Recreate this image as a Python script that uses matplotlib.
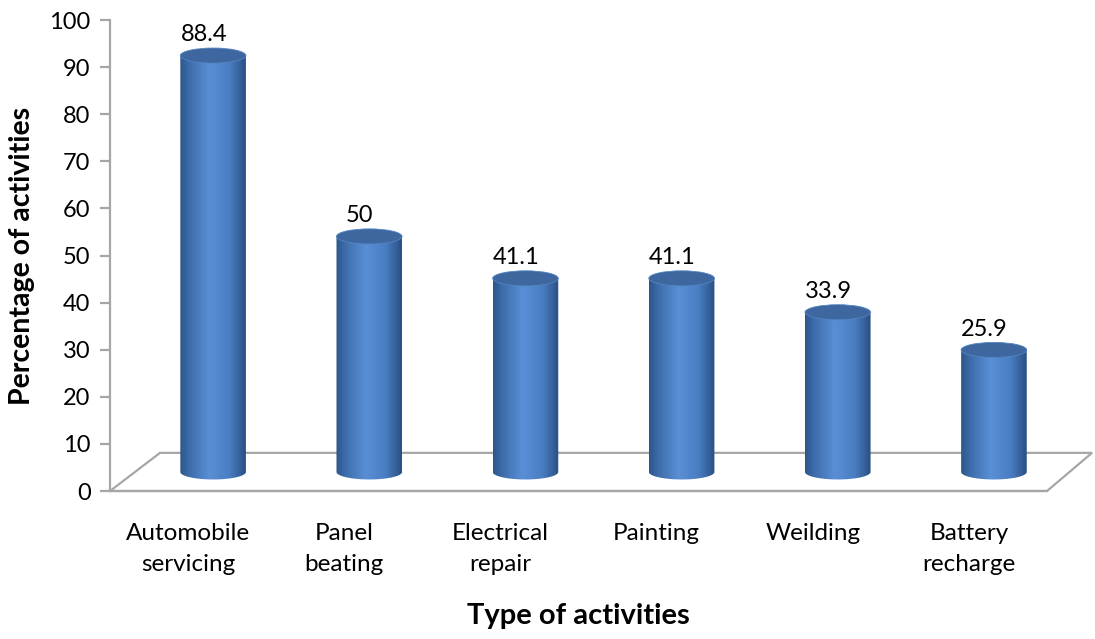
import numpy as np
import matplotlib
matplotlib.use("Agg")
import matplotlib.pyplot as plt
from matplotlib.patches import Ellipse, PathPatch, Polygon
from matplotlib.path import Path
from matplotlib.colors import LinearSegmentedColormap

categories = ["Automobile\nservicing", "Panel\nbeating", "Electrical\nrepair",
              "Painting", "Weilding", "Battery\nrecharge"]
values = [88.4, 50, 41.1, 41.1, 33.9, 25.9]
yticks = list(range(0, 101, 10))

plt.rcParams['font.family'] = ['Lato', 'DejaVu Sans']

# 3D look: depth offsets of the floor (category units, value units)
DEPTH_X, DEPTH_Y = 0.32, 8.1
BAR_W = 0.42
ELL_H = 3.2

fig = plt.figure(figsize=(10.95, 6.39), dpi=100)
ax = fig.add_axes([0.1005, 0.2316, 0.8557, 0.7371])
ax.set_xlim(-0.5, 5.5)
ax.set_ylim(0, 100)

# floor
floor = Polygon([(-0.5, 0), (5.5, 0), (5.5 + DEPTH_X * 0.9, DEPTH_Y), (-0.5 + DEPTH_X, DEPTH_Y)],
                closed=True, fill=False, edgecolor='#a6a6a6', lw=1.6, clip_on=False, zorder=1)
ax.add_patch(floor)

cmap = LinearSegmentedColormap.from_list(
    "cyl", [(0.0, '#2d5588'), (0.12, '#3b6aa8'), (0.45, '#5a8fd6'),
            (0.75, '#4a7ec3'), (1.0, '#2a4f82')])
grad = np.linspace(0, 1, 256).reshape(1, -1)

for i, v in enumerate(values):
    cx = i + DEPTH_X / 2
    base = DEPTH_Y / 2
    top = base + v
    left, right = cx - BAR_W / 2, cx + BAR_W / 2
    # body outline: sides plus lower half of the base ellipse
    t = np.linspace(0, np.pi, 60)
    arc_x = cx + BAR_W / 2 * np.cos(t)
    arc_y = base - ELL_H / 2 * np.sin(t)
    verts = [(left, top), (right, top)] + list(zip(arc_x, arc_y)) + [(left, top)]
    body = PathPatch(Path(verts), facecolor='none', edgecolor='none', zorder=3)
    ax.add_patch(body)
    im = ax.imshow(grad, cmap=cmap, extent=(left, right, base - ELL_H, top),
                   aspect='auto', zorder=3, interpolation='bilinear')
    im.set_clip_path(body)
    cap = Ellipse((cx, top), BAR_W, ELL_H, facecolor='#3d679e',
                  edgecolor='#5384c4', lw=0.6, zorder=4)
    ax.add_patch(cap)
    ax.text(cx - 0.06, top + ELL_H / 2 + 0.6, f"{v:g}", ha='center', va='bottom',
            fontsize=17, color='black', zorder=5)

ax.set_xticks(range(len(categories)))
ax.set_xticklabels(categories, fontsize=17.5, linespacing=1.6)
ax.tick_params(axis='x', length=0, pad=23)
ax.set_yticks(yticks)
ax.tick_params(axis='y', direction='out', length=7, width=1.6, color='#a6a6a6',
               labelsize=17, pad=7)

for s in ['top', 'right', 'bottom']:
    ax.spines[s].set_visible(False)
ax.spines['left'].set_color('#a6a6a6')
ax.spines['left'].set_linewidth(1.6)
ax.plot([-0.5, 5.5], [0, 0], color='#a6a6a6', lw=1.6, clip_on=False, zorder=1)

ax.set_ylabel("Percentage of activities", fontsize=20.5, fontweight='bold', labelpad=10)
ax.set_xlabel("Type of activities", fontsize=21, fontweight='bold', labelpad=20)

fig.savefig("out.png", dpi=100)
